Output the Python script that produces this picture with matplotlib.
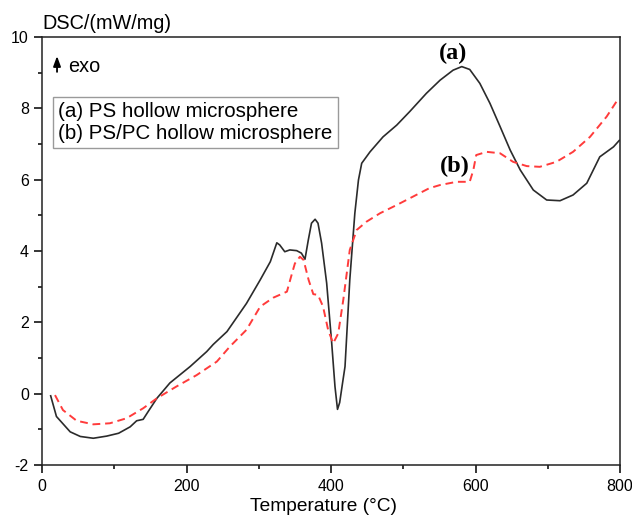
import numpy as np
import matplotlib
matplotlib.use('Agg')
import matplotlib.pyplot as plt
from matplotlib.ticker import MultipleLocator

plt.rcParams['font.family'] = ['Liberation Sans', 'DejaVu Sans']
plt.rcParams['axes.unicode_minus'] = False

# (a) PS hollow microsphere - solid black
temp_a = [12, 20, 39, 53, 71, 89.5, 106, 122, 131, 140, 147, 159, 177, 191, 205, 228, 237, 256,
          283, 302, 316, 325, 329, 336, 343, 352.5, 359, 364, 368.6, 373, 378, 382, 387, 394,
          401, 405.5, 409, 412, 416, 419.4, 426, 433, 438, 442.5, 454, 472, 491, 509, 532, 551,
          569, 581, 592, 606, 620, 634, 648, 662, 680, 698.5, 717, 735, 754, 772, 791, 799]
dsc_a = [-0.06, -0.64, -1.07, -1.2, -1.25, -1.19, -1.11, -0.93, -0.76, -0.72, -0.5, -0.13, 0.3,
         0.53, 0.76, 1.18, 1.38, 1.74, 2.53, 3.19, 3.7, 4.23, 4.17, 3.98, 4.03, 4.01, 3.94, 3.77,
         4.31, 4.78, 4.89, 4.78, 4.22, 3.1, 1.41, 0.2, -0.44, -0.25, 0.3, 0.76, 3.19, 5.06, 5.99,
         6.46, 6.78, 7.2, 7.53, 7.91, 8.42, 8.79, 9.07, 9.17, 9.09, 8.7, 8.14, 7.49, 6.83, 6.27,
         5.71, 5.43, 5.41, 5.57, 5.9, 6.64, 6.92, 7.1]

# (b) PS/PC hollow microsphere - red dashed
temp_b = [18, 29, 48, 71, 94, 117, 140, 159, 186, 214, 242, 260, 283, 302, 320, 339, 346, 350,
          357, 362, 369, 375.5, 382, 389, 396, 403, 410, 417, 426, 435.6, 449, 468, 491, 536,
          551, 574, 592, 597, 601, 615.5, 634, 652, 671, 689, 712, 735, 758.5, 781.6, 798]
dsc_b = [-0.04, -0.46, -0.76, -0.86, -0.83, -0.69, -0.41, -0.13, 0.2, 0.52, 0.9, 1.32, 1.79,
         2.44, 2.69, 2.86, 3.37, 3.65, 3.84, 3.75, 3.19, 2.79, 2.77, 2.44, 1.79, 1.41, 1.69,
         2.63, 4.03, 4.59, 4.82, 5.06, 5.29, 5.76, 5.85, 5.94, 5.94, 6.27, 6.69, 6.78, 6.74,
         6.5, 6.38, 6.36, 6.5, 6.78, 7.2, 7.77, 8.28]

labels = ['(a) PS hollow microsphere', '(b) PS/PC hollow microsphere']

fig = plt.figure(figsize=(6.32, 5.15), dpi=100)
ax = fig.add_axes([42/632, 1 - 465/515, 578/632, 428/515])

line_a, = ax.plot(temp_a, dsc_a, color='#2b2b2b', lw=1.2)
line_b, = ax.plot(temp_b, dsc_b, color='#ff3b3b', lw=1.4, dashes=(4, 2.5))

ax.set_xlim(0, 800)
ax.set_ylim(-2, 10)
ax.xaxis.set_major_locator(MultipleLocator(200))
ax.xaxis.set_minor_locator(MultipleLocator(100))
ax.yaxis.set_major_locator(MultipleLocator(2))
ax.yaxis.set_minor_locator(MultipleLocator(1))
ax.tick_params(which='both', direction='out', top=False, right=False, labelsize=11.5,
               width=1.1)
ax.tick_params(which='major', length=6)
ax.tick_params(which='minor', length=3)
ax.tick_params(axis='x', pad=4)
for s in ax.spines.values():
    s.set_linewidth(1.1)
    s.set_color('#222222')

leg = ax.legend([line_a, line_b], labels, loc='upper left', bbox_to_anchor=(0.019, 0.86),
                borderaxespad=0, handlelength=0, handletextpad=0, borderpad=0.25,
                labelspacing=0.12, fontsize=14.8, fancybox=False, framealpha=1,
                edgecolor='#9a9a9a')
for h in leg.legend_handles:
    h.set_visible(False)
leg.get_frame().set_linewidth(1.0)

ax.annotate('', xy=(0.026, 0.962), xytext=(0.026, 0.912), xycoords='axes fraction',
            arrowprops=dict(arrowstyle='-|>,head_length=0.6,head_width=0.22', color='black',
                            lw=1.3))
ax.text(0.045, 0.93, 'exo', transform=ax.transAxes, fontsize=14.3, va='center', ha='left')

ax.text(569, 9.55, '(a)', fontsize=17.5, fontweight='bold', family='Liberation Serif',
        ha='center', va='center')
ax.text(572, 6.36, '(b)', fontsize=17.5, fontweight='bold', family='Liberation Serif',
        ha='center', va='center')

fig.text(42/632, 1 - 29/515, 'DSC/(mW/mg)', fontsize=14.3, ha='left', va='baseline')
fig.text(323.5/632, 0.0, 'Temperature (°C)', fontsize=13.8, ha='center', va='bottom')

fig.savefig('out.png', dpi=100)
